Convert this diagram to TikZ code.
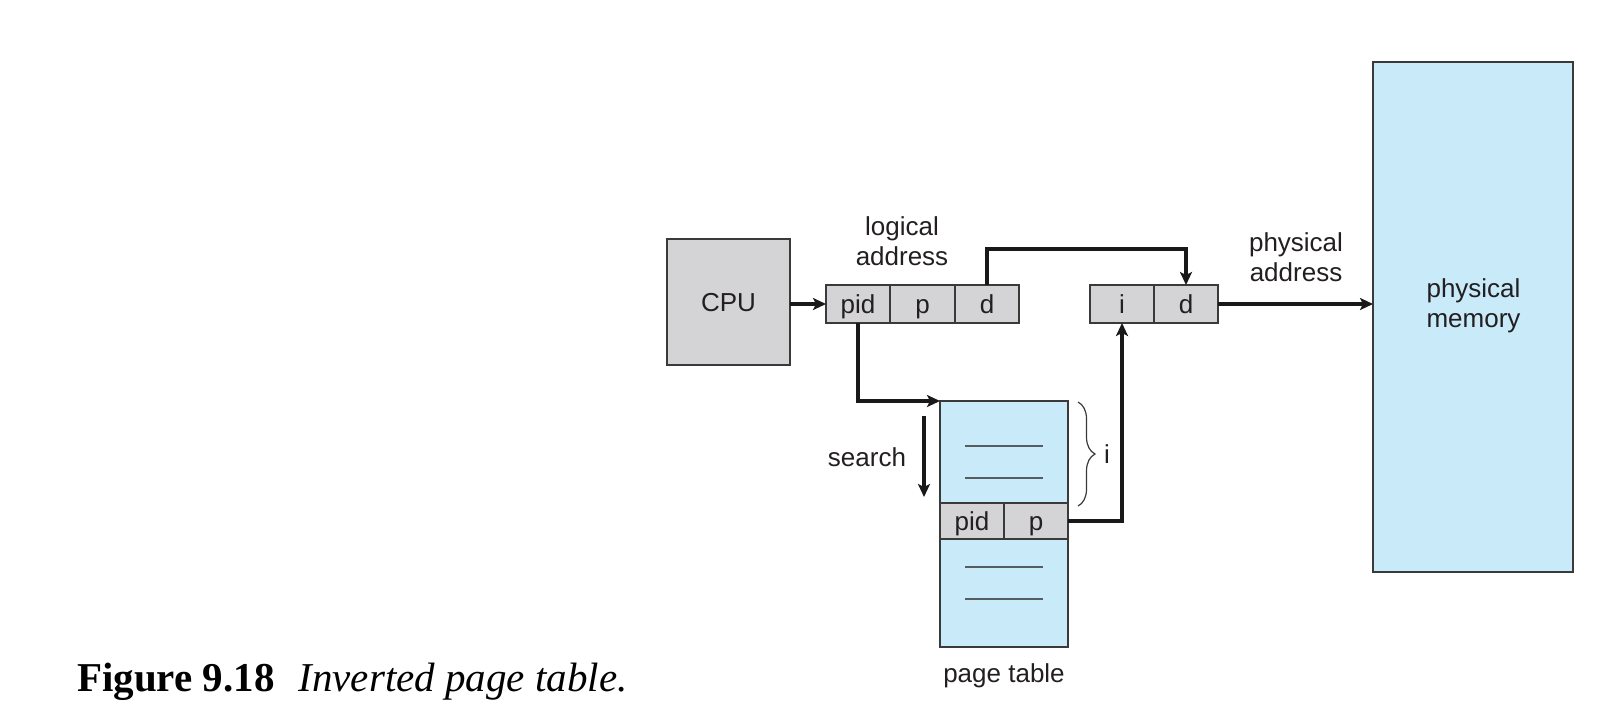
\documentclass[tikz,border=0pt]{standalone}
\usepackage{fontspec}
\setmainfont{Liberation Serif}
\newfontfamily\diagfont{Liberation Sans}
\usetikzlibrary{arrows.meta,decorations.pathreplacing}
\definecolor{cellgray}{HTML}{D4D4D6}
\definecolor{memblue}{HTML}{C8EAF9}
\definecolor{edge}{HTML}{3A3A3A}
\definecolor{ink}{HTML}{231F20}
\tikzset{
  lbl/.style={font=\diagfont\fontsize{26}{30}\selectfont, text=ink, align=center, inner sep=0pt},
  graybox/.style={draw=edge, line width=1.5pt, fill=cellgray, inner sep=0pt, outer sep=0pt,
    font=\diagfont\fontsize{26}{30}\selectfont, text=ink, text height=20pt, text depth=2pt},
  bluebox/.style={draw=edge, line width=1.5pt, fill=memblue, inner sep=0pt, outer sep=0pt},
  conn/.style={draw=black!90, line width=3.3pt},
  arr/.style={conn, -{Stealth[length=13pt,width=12pt,inset=3pt]}},
  rowline/.style={draw=edge!80!memblue, line width=1.5pt}
}
\begin{document}
\begin{tikzpicture}[x=1pt,y=-1pt]
\useasboundingbox (0,0) rectangle (1624,718);
% CPU
\node[graybox, minimum width=123, minimum height=126] (cpu) at (728.5,302) {CPU};
% logical address register
\node[graybox, minimum width=64, minimum height=38] (lpid) at (858,304) {pid};
\node[graybox, minimum width=65, minimum height=38] (lp) at (922.5,304) {p};
\node[graybox, minimum width=64, minimum height=38] (ld) at (987,304) {d};
\node[lbl] (lalbl) at (902,241) {logical\\address};
% physical address register
\node[graybox, minimum width=64, minimum height=38] (ri) at (1122,304) {i};
\node[graybox, minimum width=64, minimum height=38] (rd) at (1186,304) {d};
\node[lbl] (palbl) at (1296,257) {physical\\address};
% physical memory
\node[bluebox, minimum width=200, minimum height=510] (mem) at (1473,317) {};
\node[lbl] (memlbl) at (1473.5,306) {physical\\memory};
% page table
\node[bluebox, minimum width=128, minimum height=246] (pt) at (1004,524) {};
\node[graybox, minimum width=64, minimum height=36] (tpid) at (972,521) {pid};
\node[graybox, minimum width=64, minimum height=36] (tp) at (1036,521) {p};
\draw[rowline] (965,446) -- (1043,446);
\draw[rowline] (965,478) -- (1043,478);
\draw[rowline] (965,567) -- (1043,567);
\draw[rowline] (965,599) -- (1043,599);
\node[lbl] (ptlbl) at (1004,676) {page table};
% search
\coordinate (s1) at (924,416);
\coordinate (s2) at (924,497);
\draw[arr] (s1) -- (s2);
\node[lbl] (slbl) at (867,457) {search};
% brace
\coordinate (b1) at (1078,402);
\coordinate (b2) at (1078,506);
\draw[draw=edge, line width=1.2pt, decorate,
  decoration={brace, amplitude=17pt, aspect=0.5}] (b1) -- (b2);
\node[lbl] (ilbl) at (1107,454) {i};
% connectors
\draw[arr] (cpu.east |- lpid.west) -- (lpid.west);
\draw[arr] (ld.north) -- ++(0,-36) -| (rd.north);
\draw[arr] (lpid.south) |- (pt.north west);
\draw[arr] (tp.east) -| (ri.south);
\draw[arr] (rd.east) -- (rd.east -| mem.west);
% caption
\node[anchor=base west, inner sep=0pt, font=\fontsize{41}{46}\selectfont, text=black] (cap) at (77,691)
  {\textbf{Figure 9.18}\hspace{24pt}\textit{Inverted page table.}};
\end{tikzpicture}
\end{document}
